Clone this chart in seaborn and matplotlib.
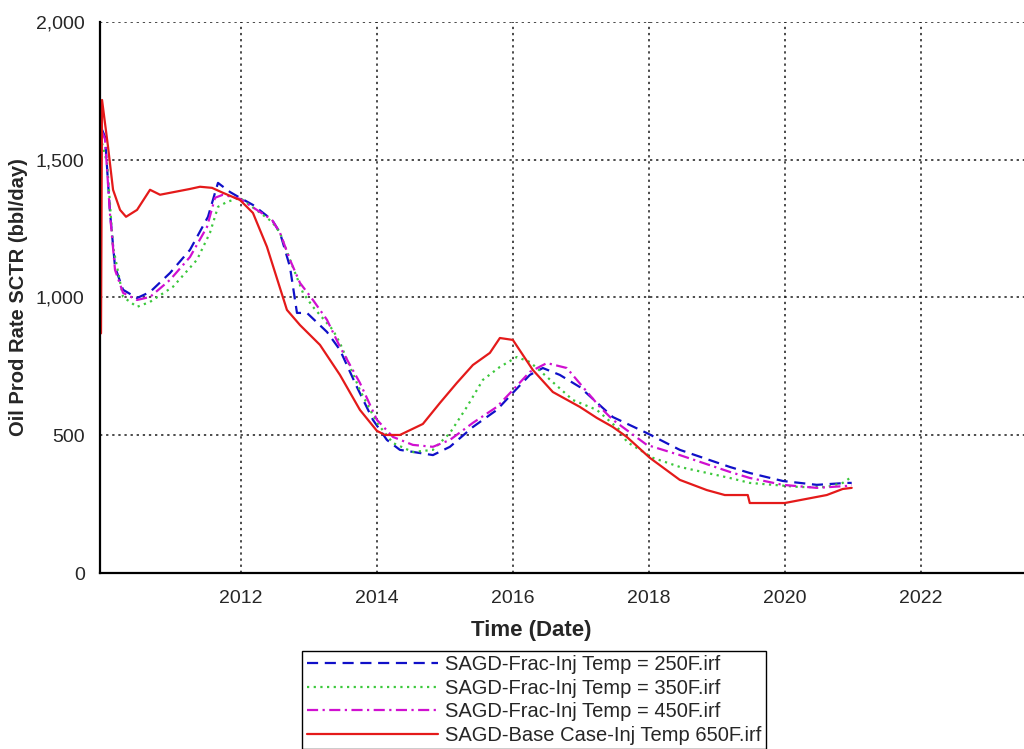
import matplotlib
matplotlib.use("Agg")
import matplotlib.pyplot as plt
import seaborn as sns
import pandas as pd

# Decimal-year time stamps and oil rates (bbl/day) for each run
t_250 = [2009.956, 2010.000, 2010.074, 2010.147, 2010.265, 2010.471, 2010.662, 2010.956,
         2011.250, 2011.515, 2011.618, 2011.662, 2011.838, 2011.985, 2012.176, 2012.456,
         2012.574, 2012.721, 2012.824, 2012.971, 2013.265, 2013.456, 2013.706, 2013.941,
         2014.147, 2014.338, 2014.824, 2015.074, 2015.412, 2015.765, 2016.000, 2016.250,
         2016.441, 2016.691, 2016.985, 2017.471, 2017.971, 2018.456, 2019.191, 2019.485,
         2019.971, 2020.471, 2020.912, 2020.985]
q_250 = [1609, 1583, 1307, 1111, 1028, 998, 1020, 1089,
         1173, 1293, 1380, 1416, 1383, 1362, 1336, 1282,
         1235, 1111, 944, 944, 875, 810, 675, 556,
         483, 447, 428, 458, 530, 592, 654, 719,
         744, 719, 675, 566, 508, 447, 385, 363,
         334, 320, 327, 327]

t_350 = [2009.956, 2010.029, 2010.118, 2010.265, 2010.471, 2010.662, 2011.000, 2011.353,
         2011.544, 2011.662, 2011.794, 2011.985, 2012.456, 2012.574, 2012.721, 2012.912,
         2013.059, 2013.353, 2013.456, 2013.750, 2014.000, 2014.235, 2014.529, 2014.824,
         2015.074, 2015.324, 2015.559, 2015.809, 2016.059, 2016.250, 2016.500, 2016.882,
         2017.235, 2017.574, 2017.676, 2018.059, 2018.456, 2019.191, 2019.485, 2020.221,
         2020.618, 2020.853, 2020.985]
q_350 = [1560, 1489, 1184, 1002, 966, 984, 1039, 1137,
         1235, 1329, 1347, 1362, 1275, 1235, 1137, 1017,
         966, 882, 835, 664, 545, 472, 439, 447,
         508, 603, 701, 748, 784, 766, 712, 628,
         592, 519, 476, 418, 385, 345, 327, 312,
         312, 327, 349]

t_450 = [2009.956, 2010.000, 2010.074, 2010.147, 2010.265, 2010.471, 2010.662, 2010.956,
         2011.250, 2011.500, 2011.618, 2011.735, 2011.985, 2012.456, 2012.574, 2012.721,
         2012.868, 2013.059, 2013.265, 2013.456, 2013.750, 2014.000, 2014.235, 2014.529,
         2014.824, 2015.074, 2015.412, 2015.765, 2016.000, 2016.250, 2016.500, 2016.794,
         2016.941, 2017.279, 2017.471, 2017.971, 2018.456, 2019.191, 2019.485, 2019.971,
         2020.471, 2020.912, 2020.985]
q_450 = [1600, 1575, 1300, 1100, 1017, 991, 1002, 1064,
         1147, 1256, 1362, 1373, 1358, 1282, 1235, 1137,
         1053, 991, 919, 821, 690, 556, 494, 465,
         458, 483, 545, 603, 664, 730, 762, 744,
         701, 603, 556, 465, 428, 367, 345, 320,
         309, 316, 320]

t_base = [2009.941, 2009.956, 2010.044, 2010.118, 2010.221, 2010.309, 2010.471, 2010.662,
          2010.809, 2011.250, 2011.397, 2011.574, 2011.735, 2011.985, 2012.176, 2012.382,
          2012.676, 2012.868, 2013.162, 2013.456, 2013.750, 2014.000, 2014.118, 2014.338,
          2014.676, 2014.926, 2015.176, 2015.412, 2015.662, 2015.809, 2016.000, 2016.294,
          2016.588, 2016.985, 2017.235, 2017.471, 2017.676, 2018.015, 2018.456, 2018.853,
          2019.118, 2019.456, 2019.485, 2020.000, 2020.618, 2020.853, 2020.985]
q_base = [870, 1717, 1547, 1391, 1318, 1293, 1318, 1391,
          1373, 1394, 1402, 1398, 1380, 1354, 1307, 1184,
          955, 900, 828, 719, 592, 516, 501, 501,
          541, 617, 690, 755, 799, 853, 846, 737,
          657, 603, 563, 530, 494, 418, 338, 301,
          283, 283, 254, 254, 283, 305, 309]

labels = ["SAGD-Frac-Inj Temp = 250F.irf",
          "SAGD-Frac-Inj Temp = 350F.irf",
          "SAGD-Frac-Inj Temp = 450F.irf",
          "SAGD-Base Case-Inj Temp 650F.irf"]

year_ticks = [2012, 2014, 2016, 2018, 2020, 2022]
rate_ticks = [0, 500, 1000, 1500, 2000]

sns.set_style("white")
plt.rcParams["font.family"] = ["Liberation Sans", "DejaVu Sans"]

series = [
    (t_250, q_250, labels[0], "#1010c8", (0, (5, 3))),
    (t_350, q_350, labels[1], "#3cc83c", (0, (1, 2))),
    (t_450, q_450, labels[2], "#d010d0", (0, (5, 2, 1, 2))),
    (t_base, q_base, labels[3], "#e41a1a", "-"),
]

fig = plt.figure(figsize=(10.24, 7.49), dpi=100)
ax = fig.add_axes([100 / 1024, 1 - 573 / 749, 1 - 100 / 1024, (573 - 22) / 749])

for t, q, lab, col, ls in series:
    df = pd.DataFrame({"t": t, "q": q})
    sns.lineplot(data=df, x="t", y="q", ax=ax, color=col, linestyle=ls,
                 linewidth=1.6, label=lab, sort=False, estimator=None)

ax.set_xlim(2009.926, 2023.52)
ax.set_ylim(0, 2000)
ax.set_xticks(year_ticks)
ax.set_xticklabels([str(y) for y in year_ticks], fontsize=14)
ax.set_yticks(rate_ticks)
ax.set_yticklabels([f"{v:,}" for v in rate_ticks], fontsize=14)

ax.grid(True, color="#1a1a1a", linestyle=(0, (1.5, 2.5)), linewidth=1.1)
for s in ["top", "right"]:
    ax.spines[s].set_visible(False)
for s in ["left", "bottom"]:
    ax.spines[s].set_color("black")
    ax.spines[s].set_linewidth(1.6)
ax.tick_params(axis="y", direction="out", length=9, width=1.5, color="black", pad=2)
ax.tick_params(axis="x", direction="out", length=5, width=1.0, color="black", pad=7)

ax.set_xlabel("Time (Date)", fontsize=16, fontweight="bold")
ax.xaxis.set_label_coords((531 - 100) / 924, -47 / 551)
ax.set_ylabel("Oil Prod Rate SCTR (bbl/day)", fontsize=14.5, fontweight="bold", labelpad=6)

handles, labs = ax.get_legend_handles_labels()
ax.legend_.remove()
leg = fig.legend(handles, labs, loc="upper center", bbox_to_anchor=(0.5215, 1 - 651 / 749),
                 borderaxespad=0, fontsize=14.5, handlelength=6.5, handletextpad=0.35,
                 labelspacing=0.22, borderpad=0.22, fancybox=False, frameon=True,
                 edgecolor="black", framealpha=1)
leg.get_frame().set_linewidth(1.0)

fig.savefig("out.png", dpi=100)
